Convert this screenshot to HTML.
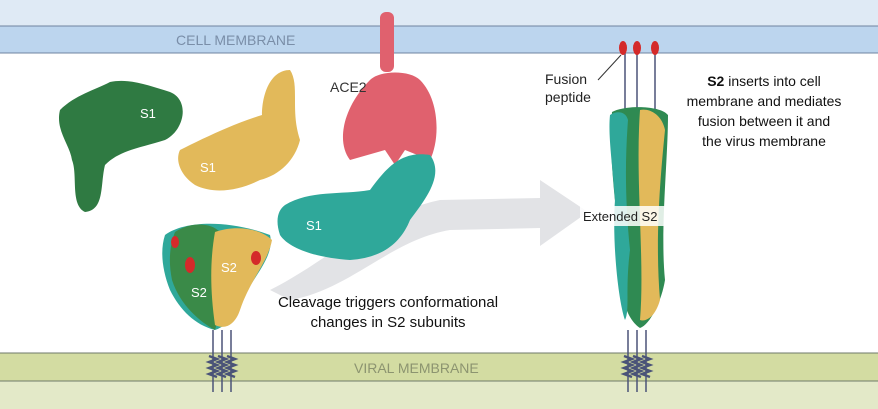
<!DOCTYPE html>
<html><head><style>
body{margin:0;width:878px;height:409px;overflow:hidden;background:#fff;font-family:"Liberation Sans",sans-serif}
svg{display:block}
text{font-family:"Liberation Sans",sans-serif}
</style></head><body>
<svg width="878" height="409" viewBox="0 0 878 409">
<rect x="0" y="0" width="878" height="26" fill="#dfeaf5"/>
<rect x="0" y="26" width="878" height="27" fill="#bcd5ee"/>
<line x1="0" y1="26" x2="878" y2="26" stroke="#6f84a0" stroke-width="1"/>
<line x1="0" y1="53" x2="878" y2="53" stroke="#6f84a0" stroke-width="1"/>
<text x="176" y="45" font-size="14" fill="#7a8ea8">CELL MEMBRANE</text>
<rect x="0" y="353" width="878" height="28" fill="#d3dca2"/>
<rect x="0" y="381" width="878" height="28" fill="#e3e9c8"/>
<line x1="0" y1="353" x2="878" y2="353" stroke="#6f7a6a"/>
<line x1="0" y1="381" x2="878" y2="381" stroke="#6f7a6a"/>
<text x="354" y="373" font-size="14" fill="#8c9470">VIRAL MEMBRANE</text>
<path d="M270 290 C330 260 370 215 440 200 L540 198 L540 180 L588 212 L540 246 L540 228 L450 230 C390 240 350 290 290 300 Z" fill="#e2e3e6"/>
<path d="M60 110 C75 95 95 90 110 82 C130 78 150 86 170 92 C190 100 185 130 165 140 C140 148 120 150 105 165 C100 185 105 210 85 212 C70 205 78 175 72 160 C70 145 55 130 60 110 Z" fill="#2f7a42"/>
<text x="140" y="118" font-size="13" fill="#fff">S1</text>
<path d="M180 150 C200 140 230 125 262 115 C262 95 270 70 290 70 C300 85 290 110 300 140 C295 160 280 175 260 180 C240 190 215 195 195 185 C180 175 175 160 180 150 Z" fill="#e2b95a"/>
<text x="200" y="172" font-size="13" fill="#fff">S1</text>
<rect x="380" y="12" width="14" height="60" rx="6" fill="#e0616e"/>
<path d="M370 80 C380 70 410 70 420 80 C440 100 440 140 430 160 L405 150 L395 165 L385 150 L350 160 C335 140 345 105 370 80 Z" fill="#e0616e"/>
<text x="330" y="92" font-size="14" fill="#333">ACE2</text>
<path d="M285 205 C310 190 340 195 370 190 C385 170 400 150 430 155 C445 175 425 200 410 220 C400 245 380 258 350 260 C320 258 290 250 280 235 C275 220 278 210 285 205 Z" fill="#2fa89a"/>
<text x="306" y="230" font-size="13" fill="#fff">S1</text>
<path d="M165 235 C185 220 230 220 270 235 C275 255 255 275 245 295 C240 310 230 325 215 330 C195 325 180 310 170 290 C162 270 160 250 165 235 Z" fill="#2fa89a"/>
<path d="M175 232 C190 222 210 222 220 232 C225 260 225 300 215 330 C200 322 180 305 172 280 C168 260 170 245 175 232 Z" fill="#3a8a48"/>
<path d="M215 232 C235 225 260 228 272 240 C268 262 250 280 240 310 C235 325 225 330 215 325 C210 290 210 260 215 232 Z" fill="#e2b95a"/>
<text x="221" y="272" font-size="13" fill="#fff">S2</text>
<text x="191" y="297" font-size="13" fill="#fff">S2</text>
<ellipse cx="190" cy="265" rx="5" ry="8" fill="#d42a2a"/>
<ellipse cx="256" cy="258" rx="5" ry="7" fill="#d42a2a"/>
<ellipse cx="175" cy="242" rx="4" ry="6" fill="#d42a2a"/>
<g stroke="#4a5378" stroke-width="1.5" fill="none">
<path d="M213 330 V392"/><path d="M222 330 V392"/><path d="M231 330 V392"/>
<path d="M628 330 V392"/><path d="M637 330 V392"/><path d="M646 330 V392"/>
<path d="M625 48 V110"/><path d="M637 48 V110"/><path d="M655 48 V110"/>
</g>
<g stroke="#4a5378" stroke-width="2.5" fill="none">
<path d="M209 356 l8 3 l-8 3 l8 3 l-8 3 l8 3 l-8 3 l8 3 M218 356 l8 3 l-8 3 l8 3 l-8 3 l8 3 l-8 3 l8 3 M227 356 l8 3 l-8 3 l8 3 l-8 3 l8 3 l-8 3 l8 3"/>
<path d="M624 356 l8 3 l-8 3 l8 3 l-8 3 l8 3 l-8 3 l8 3 M633 356 l8 3 l-8 3 l8 3 l-8 3 l8 3 l-8 3 l8 3 M642 356 l8 3 l-8 3 l8 3 l-8 3 l8 3 l-8 3 l8 3"/>
</g>
<ellipse cx="623" cy="48" rx="4" ry="7" fill="#d42a2a"/>
<ellipse cx="637" cy="48" rx="4" ry="7" fill="#d42a2a"/>
<ellipse cx="655" cy="48" rx="4" ry="7" fill="#d42a2a"/>
<line x1="598" y1="80" x2="621" y2="55" stroke="#333" stroke-width="1"/>
<path d="M612 112 C625 105 660 105 668 115 C668 160 660 230 665 280 C662 300 650 325 640 328 C628 320 620 300 622 270 C618 220 608 160 612 112 Z" fill="#2f8a52"/>
<path d="M640 110 C650 108 662 115 665 130 C660 180 655 240 660 300 C655 318 645 322 640 320 C645 260 635 180 640 110 Z" fill="#e2b95a"/>
<path d="M610 115 C618 110 626 112 628 120 C625 160 625 200 630 250 C625 290 630 310 625 320 C618 300 612 240 615 200 C612 160 608 135 610 115 Z" fill="#2fa89a"/>
<rect x="580" y="206" width="104" height="20" fill="#fff" opacity="0.85"/>
<text x="583" y="221" font-size="13" fill="#222">Extended S2</text>
<text x="545" y="84" font-size="14" fill="#222">Fusion</text>
<text x="545" y="102" font-size="14" fill="#222">peptide</text>
<g font-size="14" fill="#111" text-anchor="middle">
<text x="764" y="86"><tspan font-weight="bold">S2</tspan> inserts into cell</text>
<text x="764" y="106">membrane and mediates</text>
<text x="764" y="126">fusion between it and</text>
<text x="764" y="146">the virus membrane</text>
<text x="388" y="307" font-size="15">Cleavage triggers conformational</text>
<text x="388" y="327" font-size="15">changes in S2 subunits</text>
</g>
</svg>
</body></html>
